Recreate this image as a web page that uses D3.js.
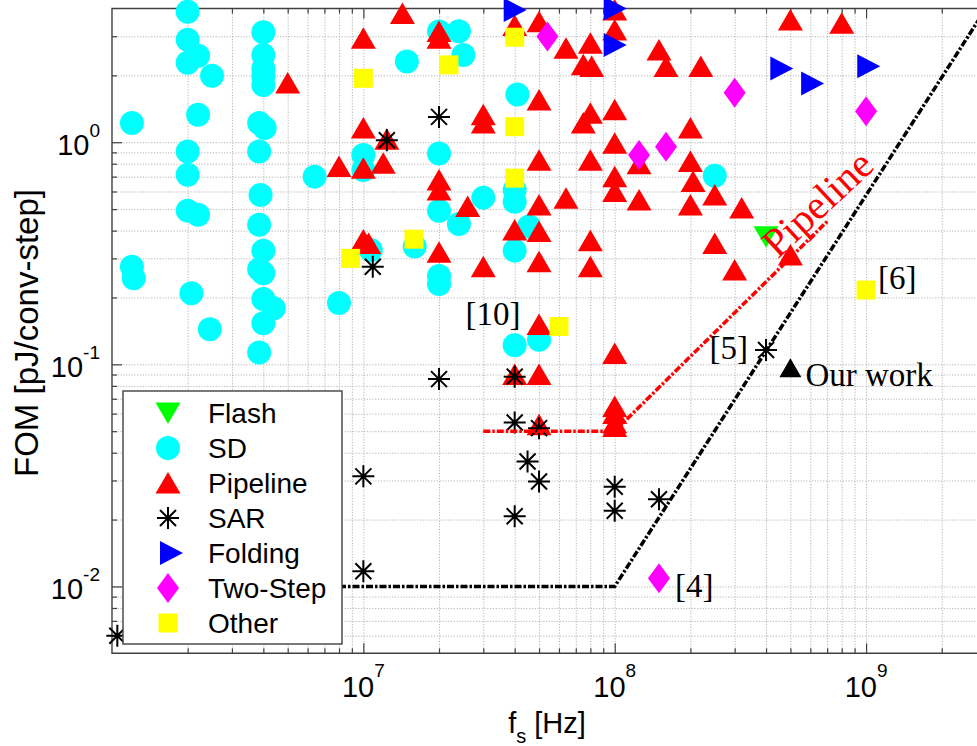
<!DOCTYPE html>
<html>
<head>
<meta charset="utf-8">
<script src="https://cdn.jsdelivr.net/npm/d3@7"></script>
<style>
  html, body { margin: 0; padding: 0; background: #ffffff; }
  svg { display: block; }
  .grid line { stroke: #b4b4b4; stroke-width: 1; stroke-dasharray: 1.2 1.6; }
  .ticks line { stroke: #404040; stroke-width: 1.2; }
  .sans { font-family: "Liberation Sans", Arial, Helvetica, sans-serif; fill: #000; }
  .serif { font-family: "Liberation Serif", "Times New Roman", serif; }
</style>
</head>
<body>
<svg id="chart" width="977" height="746"></svg>
<script>
// ADC survey: sampling frequency fs [Hz] vs. figure of merit [pJ/conv-step]
// Each entry is [fs, FOM].
const flash = [[4e8, 0.375]];

const sd = [
  [1.2e6, 1.22], [1.2e6, 0.275], [1.22e6, 0.244],
  [2e6, 3.87], [2e6, 2.89], [2.2e6, 2.45], [2e6, 2.28], [2.5e6, 1.99], [2.2e6, 1.33],
  [2e6, 0.908], [2e6, 0.713], [2e6, 0.492], [2.2e6, 0.471], [2.07e6, 0.209], [2.45e6, 0.144],
  [4e6, 3.13], [4e6, 2.47], [4e6, 2.15], [4e6, 1.98], [4e6, 1.81], [3.85e6, 1.22], [4.05e6, 1.16],
  [3.85e6, 0.908], [3.9e6, 0.579], [3.85e6, 0.425], [4e6, 0.325], [3.85e6, 0.268], [4e6, 0.257],
  [4e6, 0.197], [4.4e6, 0.179], [4e6, 0.153], [3.85e6, 0.113],
  [6.4e6, 0.70], [8e6, 0.189], [1e7, 0.877], [1e7, 0.75], [1.07e7, 0.327], [1.49e7, 2.31],
  [1.6e7, 0.339], [2e7, 3.15], [2.4e7, 3.16], [2.5e7, 2.47], [4.1e7, 1.64], [2e7, 0.89],
  [3e7, 0.563], [2e7, 0.491], [2.4e7, 0.428], [4e7, 0.61], [4e7, 0.54], [4.56e7, 0.417],
  [4e7, 0.325], [2e7, 0.25], [2e7, 0.23], [4e7, 0.122], [5e7, 0.129], [2.5e8, 0.707]
];

const pipeline = [
  [5e6, 1.85], [1.43e7, 3.8], [1e7, 2.94], [2e7, 3.15], [2e7, 2.94], [4e7, 3.35], [5e7, 3.49],
  [6.4e7, 2.65], [8e7, 2.79], [7.5e7, 2.23], [8.1e7, 2.19], [1e8, 3.94], [1e8, 3.2], [1.5e8, 2.6],
  [1.6e8, 2.19], [2.2e8, 2.19], [5e8, 3.55], [8e8, 3.43],
  [1e7, 1.16], [1.24e7, 1.03], [8e6, 0.777], [1e7, 0.764], [1.2e7, 0.804], [3e7, 1.33], [3e7, 1.22],
  [5e7, 1.55], [8e7, 1.35], [7.5e7, 1.22], [1e8, 1.4], [1e8, 0.99], [5e7, 0.83], [8e7, 0.83],
  [1e8, 0.70], [1e8, 0.60], [1.25e8, 0.80], [1.25e8, 0.55], [2e7, 0.676], [2e7, 0.61], [2.6e7, 0.513],
  [5e7, 0.522], [6.4e7, 0.56], [4e7, 0.403], [5e7, 0.396], [8e7, 0.36], [1e7, 0.363], [1.05e7, 0.35],
  [2e7, 0.32], [2e8, 1.16], [2e8, 0.818], [2.05e8, 0.665], [2e8, 0.522], [2.5e8, 0.579], [3.2e8, 0.505],
  [2.5e8, 0.35], [5e8, 0.311], [3e8, 0.266], [1e8, 0.112], [1e8, 0.06], [1e8, 0.0525],
  [3e7, 0.275], [5e7, 0.29], [8e7, 0.275], [5e7, 0.151], [4e7, 0.09], [5e7, 0.09], [5e7, 0.0534],
  [1e8, 0.0646], [1e8, 0.0544]
];

const sar = [
  [2e7, 1.30], [1.24e7, 1.02], [1.09e7, 0.275], [2e7, 0.0858], [4e7, 0.088], [4e7, 0.0547],
  [5e7, 0.0516], [4.5e7, 0.0365], [5e7, 0.0297], [1e7, 0.0313], [4e7, 0.0207], [1e8, 0.0281],
  [1e8, 0.0219], [1.5e8, 0.0247], [1e7, 0.0117], [1.05e6, 0.006], [4e8, 0.116]
];

const folding = [[4e7, 3.94], [1e8, 4.0], [1e8, 2.74], [4.6e8, 2.15], [6.1e8, 1.84], [1.02e9, 2.2]];

const twoStep = [[5.4e7, 2.99], [3e8, 1.67], [1e9, 1.38], [1.6e8, 0.955], [1.25e8, 0.877], [1.5e8, 0.0109]];

const other = [
  [1e7, 1.94], [2.19e7, 2.23], [4e7, 2.97], [4e7, 1.175], [4e7, 0.689], [1.59e7, 0.366],
  [8.9e6, 0.30], [6e7, 0.148], [1e9, 0.216]
];

const ourWork = [[5e8, 0.096]];

// Envelope lines
const pipelineEnvelope = [[3e7, 0.05], [1e8, 0.05], [7e8, 0.44]];
const sarEnvelope = [[8e6, 0.01], [1e8, 0.01], [3e9, 4]];

// Axis tick labels (powers of ten)
const xMajorTicks = [1e7, 1e8, 1e9];
const xTickExponents = ["7", "8", "9"];
const yMajorTicks = [0.01, 0.1, 1];
const yTickExponents = ["-2", "-1", "0"];

const legendNames = ["Flash", "SD", "Pipeline", "SAR", "Folding", "Two-Step", "Other"];

// ---------------------------------------------------------------------------
const plot = { left: 112, top: 8.5, right: 986, bottom: 653.3 };
const x = d3.scaleLog().domain([1e6, 3e9]).range([plot.left, plot.right]);
const y = d3.scaleLog().domain([0.005, 4]).range([plot.bottom, plot.top]);

// Marker shapes centred on the origin
const shapes = {
  circle: "M12,0A12,12 0 1,1 -12,0A12,12 0 1,1 12,0Z",
  triUp: "M0,-11L12.5,10.5L-12.5,10.5Z",
  triDown: "M0,11L12.5,-10.5L-12.5,-10.5Z",
  triRight: "M12,0L-11,-12L-11,12Z",
  diamond: "M0,-15L11,0L0,15L-11,0Z",
  square: "M-9.5,-9.5H9.5V9.5H-9.5Z",
  star: "M-11,0H11M0,-11V11M-8,-8L8,8M-8,8L8,-8"
};

const series = [
  { name: legendNames[0], data: flash, shape: "triDown", color: "#00ff00" },
  { name: legendNames[1], data: sd, shape: "circle", color: "#00ffff" },
  { name: legendNames[2], data: pipeline, shape: "triUp", color: "#ff0000" },
  { name: legendNames[3], data: sar, shape: "star", color: "#000000" },
  { name: legendNames[4], data: folding, shape: "triRight", color: "#0000ff" },
  { name: legendNames[5], data: twoStep, shape: "diamond", color: "#ff00ff" },
  { name: legendNames[6], data: other, shape: "square", color: "#ffff00" }
];

const svg = d3.select("#chart");

function drawMarker(sel, shape, color) {
  const p = sel.append("path").attr("d", shapes[shape]);
  if (shape === "star") {
    p.attr("fill", "none").attr("stroke", color).attr("stroke-width", 2);
  } else {
    p.attr("fill", color).attr("stroke", "none");
  }
  return p;
}

// ---- grid ----
const lo = (a, b) => a > b * 1.0001;
const xGrid = x.ticks().filter(v => lo(v, x.domain()[0]) && v < x.domain()[1] * 0.9999);
const yGrid = y.ticks().filter(v => lo(v, y.domain()[0]) && v < y.domain()[1] * 0.9999);

svg.append("g").attr("class", "grid")
  .attr("transform", `translate(0,${plot.bottom})`)
  .call(d3.axisBottom(x).tickValues(xGrid).tickSize(-(plot.bottom - plot.top)).tickFormat(""))
  .call(s => s.select(".domain").remove());
svg.append("g").attr("class", "grid")
  .attr("transform", `translate(${plot.left},0)`)
  .call(d3.axisLeft(y).tickValues(yGrid).tickSize(-(plot.right - plot.left)).tickFormat(""))
  .call(s => s.select(".domain").remove());

// ---- inward ticks ----
const isMajor = v => Math.abs(Math.log10(v) - Math.round(Math.log10(v))) < 1e-6;
function tickLen(sel, sign, horizontal) {
  sel.selectAll(".tick line").each(function (d) {
    const L = (isMajor(d) ? 10 : 5) * sign;
    d3.select(this).attr(horizontal ? "x2" : "y2", L);
  });
}
svg.append("g").attr("class", "ticks")
  .attr("transform", `translate(0,${plot.bottom})`)
  .call(d3.axisBottom(x).tickValues(xGrid).tickFormat(""))
  .call(s => s.select(".domain").remove())
  .call(s => tickLen(s, -1, false));
svg.append("g").attr("class", "ticks")
  .attr("transform", `translate(0,${plot.top})`)
  .call(d3.axisTop(x).tickValues(xGrid).tickFormat(""))
  .call(s => s.select(".domain").remove())
  .call(s => tickLen(s, 1, false));
svg.append("g").attr("class", "ticks")
  .attr("transform", `translate(${plot.left},0)`)
  .call(d3.axisLeft(y).tickValues(yGrid).tickFormat(""))
  .call(s => s.select(".domain").remove())
  .call(s => tickLen(s, 1, true));

// ---- axes frame ----
svg.append("path")
  .attr("d", `M${plot.right},${plot.top}H${plot.left}V${plot.bottom}H${plot.right}`)
  .attr("fill", "none").attr("stroke", "#404040").attr("stroke-width", 1.4);

// ---- tick labels ----
xMajorTicks.forEach((v, i) => {
  const t = svg.append("text").attr("class", "sans")
    .attr("x", x(v)).attr("y", 697).attr("text-anchor", "middle").attr("font-size", 29);
  t.append("tspan").text("10");
  t.append("tspan").attr("dy", -20).attr("font-size", 19).text(xTickExponents[i]);
});
yMajorTicks.forEach((v, i) => {
  const t = svg.append("text").attr("class", "sans")
    .attr("x", 100).attr("y", y(v) + 12.7).attr("text-anchor", "end").attr("font-size", 29);
  t.append("tspan").text("10");
  t.append("tspan").attr("dy", -18).attr("font-size", 19).text(yTickExponents[i]);
});

// ---- axis titles ----
const xt = svg.append("text").attr("class", "sans")
  .attr("x", 547).attr("y", 733).attr("text-anchor", "middle").attr("font-size", 29);
xt.append("tspan").text("f");
xt.append("tspan").attr("dy", 10).attr("font-size", 20).text("s");
xt.append("tspan").attr("dy", -10).text(" [Hz]");

svg.append("text").attr("class", "sans")
  .attr("transform", "translate(38,333) rotate(-90)")
  .attr("text-anchor", "middle").attr("font-size", 33)
  .text("FOM [pJ/conv-step]");

// ---- data markers ----
series.forEach(s => {
  const grp = svg.append("g");
  s.data.forEach(([fs, fom]) => {
    const m = grp.append("g").attr("transform", `translate(${x(fs)},${y(fom)})`);
    drawMarker(m, s.shape, s.color);
  });
});

// ---- envelope lines ----
const line = d3.line().x(d => x(d[0])).y(d => y(d[1]));
svg.append("path").datum(pipelineEnvelope).attr("d", line)
  .attr("fill", "none").attr("stroke", "#ff0000").attr("stroke-width", 3.5)
  .attr("stroke-dasharray", "7 2 2.5 2");
svg.append("path").datum(sarEnvelope).attr("d", line)
  .attr("fill", "none").attr("stroke", "#000000").attr("stroke-width", 3.5)
  .attr("stroke-dasharray", "7 2 2.5 2");

// ---- this work ----
ourWork.forEach(([fs, fom]) => {
  svg.append("path").attr("d", "M0,-10L11,9L-11,9Z")
    .attr("transform", `translate(${x(fs)},${y(fom)})`).attr("fill", "#000");
});

// ---- reference annotations ----
const notes = [
  { at: [2.55e7, 0.151], text: "[10]", dx: 0, dy: 0, anchor: "start" },
  { at: sar[sar.length - 1], text: "[5]", dx: -18, dy: 9, anchor: "end" },
  { at: other[other.length - 1], text: "[6]", dx: 12, dy: -1, anchor: "start" },
  { at: twoStep[twoStep.length - 1], text: "[4]", dx: 16, dy: 19, anchor: "start" },
  { at: ourWork[0], text: "Our work", dx: 15, dy: 18, anchor: "start" }
];
notes.forEach(n => {
  svg.append("text").attr("class", "serif")
    .attr("x", x(n.at[0]) + n.dx).attr("y", y(n.at[1]) + n.dy)
    .attr("text-anchor", n.anchor).attr("font-size", 33).attr("fill", "#000")
    .text(n.text);
});

svg.append("text").attr("class", "serif")
  .attr("transform", `translate(${x(6.4e8)},${y(0.53)}) rotate(-43)`)
  .attr("text-anchor", "middle").attr("dominant-baseline", "central")
  .attr("font-size", 41).attr("fill", "#ff0000")
  .text("Pipeline");

// ---- legend ----
const lg = svg.append("g");
lg.append("rect").attr("x", 123).attr("y", 391).attr("width", 219).attr("height", 253)
  .attr("fill", "#ffffff").attr("stroke", "#404040").attr("stroke-width", 1.4);
series.forEach((s, i) => {
  const cy = 413 + i * 35;
  const m = lg.append("g").attr("transform", `translate(${s.shape === "triRight" ? 171 : 168},${cy})`);
  drawMarker(m, s.shape, s.color);
  lg.append("text").attr("class", "sans")
    .attr("x", 208).attr("y", cy + 9.5).attr("font-size", 28).text(s.name);
});
</script>
</body>
</html>
